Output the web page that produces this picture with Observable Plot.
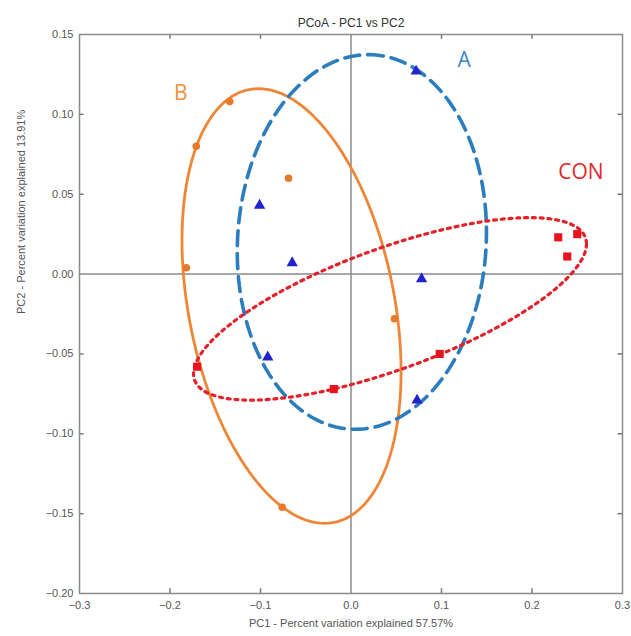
<!DOCTYPE html>
<html>
<head>
<meta charset="utf-8">
<script src="https://cdn.jsdelivr.net/npm/d3@7"></script>
<script src="https://cdn.jsdelivr.net/npm/@observablehq/plot@0.6"></script>
<style>
  html, body { margin: 0; padding: 0; background: #fff; }
  #chart svg { display: block; }
</style>
</head>
<body>
<div id="chart"></div>
<script>
// ---- Data ----
const title = "PCoA - PC1 vs PC2";
const xLabel = "PC1 - Percent variation explained 57.57%";
const yLabel = "PC2 - Percent variation explained 13.91%";

const xTicks = [-0.3, -0.2, -0.1, 0.0, 0.1, 0.2, 0.3];
const yTicks = [0.15, 0.10, 0.05, 0.00, -0.05, -0.10, -0.15, -0.20];

// Group B (orange circles)
const bX = [-0.134, -0.171, -0.069, -0.182, 0.048, -0.076];
const bY = [0.108, 0.080, 0.060, 0.004, -0.028, -0.146];
// Group A (blue triangles)
const aX = [0.072, -0.101, -0.065, 0.078, -0.092, 0.073];
const aY = [0.127, 0.043, 0.007, -0.003, -0.052, -0.079];
// Group CON (red squares)
const conX = [0.229, 0.250, 0.239, 0.098, -0.019, -0.170];
const conY = [0.023, 0.025, 0.011, -0.050, -0.072, -0.058];

// Ellipse parameters (center, two conjugate semi-axis vectors, in data units)
const ellipseGroups = ["A", "B", "CON"];
const ellipseCx = [0.0120, -0.0657, 0.0431];
const ellipseCy = [0.0201, -0.0200, -0.0218];
const ellipseU = [[0.0072, 0.1173], [-0.0365, 0.1361], [0.2171, 0.0406]];
const ellipseV = [[0.1375, 0.0], [0.1154, 0.0], [0.0, -0.0402]];

// Group label positions
const labelText = ["B", "A", "CON"];
const labelX = [-0.188, 0.125, 0.254];
const labelY = [0.113, 0.134, 0.064];

// ---- Styling ----
const colors = {
  A: {line: "#2C7DBD", point: "#2323CC", text: "#3A86C4"},
  B: {line: "#EE8636", point: "#E8782A", text: "#F0903F"},
  CON: {line: "#E4202A", point: "#E5141E", text: "#E2262C"}
};

// ---- Build tables ----
const zip = (xs, ys) => xs.map((x, i) => ({x, y: ys[i]}));
const ptsA = zip(aX, aY), ptsB = zip(bX, bY), ptsCON = zip(conX, conY);

const N = 160;
function ellipsePath(i) {
  const out = [];
  for (let k = 0; k <= N; k++) {
    const t = (2 * Math.PI * k) / N;
    out.push({
      x: ellipseCx[i] + ellipseU[i][0] * Math.cos(t) + ellipseV[i][0] * Math.sin(t),
      y: ellipseCy[i] + ellipseU[i][1] * Math.cos(t) + ellipseV[i][1] * Math.sin(t)
    });
  }
  return out;
}
const ellA = ellipsePath(0), ellB = ellipsePath(1), ellCON = ellipsePath(2);

const labels = labelText.map((t, i) => ({t, x: labelX[i], y: labelY[i]}));

const xMin = xTicks[0], xMax = xTicks[xTicks.length - 1];
const yMin = yTicks[yTicks.length - 1], yMax = yTicks[0];
const innerX = xTicks.filter(d => d !== 0 && d !== xMin && d !== xMax);
const innerY = yTicks.filter(d => d !== 0 && d !== yMin && d !== yMax);
const tickLenY = 0.003, tickLenX = 0.005;

const chart = Plot.plot({
  width: 631,
  height: 636,
  marginLeft: 79,
  marginRight: 9,
  marginTop: 34,
  marginBottom: 43,
  style: {fontFamily: "'Liberation Sans', Arial, sans-serif", fontSize: "11px", color: "#555", background: "#fff"},
  x: {domain: [xMin, xMax], ticks: xTicks, tickFormat: d3.format(".1f"), tickSize: 0, tickPadding: 8, label: null},
  y: {domain: [yMin, yMax], ticks: yTicks, tickFormat: d3.format(".2f"), tickSize: 0, tickPadding: 6, label: null},
  marks: [
    // zero lines
    Plot.ruleX([0], {stroke: "#8a8a8a", strokeWidth: 1.5}),
    Plot.ruleY([0], {stroke: "#8a8a8a", strokeWidth: 1.5}),
    // inward ticks
    Plot.ruleX(innerX, {x: d => d, y1: yMin, y2: yMin + tickLenY, stroke: "#777", strokeWidth: 1.5}),
    Plot.ruleX(innerX, {x: d => d, y1: yMax, y2: yMax - tickLenY, stroke: "#777", strokeWidth: 1.5}),
    Plot.ruleY(innerY, {y: d => d, x1: xMin, x2: xMin + tickLenX, stroke: "#777", strokeWidth: 1.5}),
    Plot.ruleY(innerY, {y: d => d, x1: xMax, x2: xMax - tickLenX, stroke: "#777", strokeWidth: 1.5}),
    Plot.frame({stroke: "#8a8a8a", strokeWidth: 1.5}),
    // ellipses
    Plot.line(ellB, {x: "x", y: "y", stroke: colors.B.line, strokeWidth: 2.8}),
    Plot.line(ellA, {x: "x", y: "y", stroke: colors.A.line, strokeWidth: 3.6, strokeDasharray: "15 8"}),
    Plot.line(ellCON, {x: "x", y: "y", stroke: colors.CON.line, strokeWidth: 3.2, strokeDasharray: "3 4.8"}),
    // points
    Plot.dot(ptsB, {x: "x", y: "y", r: 3.8, fill: colors.B.point, stroke: "none"}),
    Plot.dot(ptsA, {x: "x", y: "y", r: 4.2, symbol: "triangle", fill: colors.A.point, stroke: "none"}),
    Plot.dot(ptsCON, {x: "x", y: "y", r: 4.6, symbol: "square", fill: colors.CON.point, stroke: "none"}),
    // group labels
    Plot.text(labels, {x: "x", y: "y", text: "t", fill: d => colors[d.t].text, fontSize: 21,
      fontFamily: "'Open Sans', sans-serif", textAnchor: "middle"}),
    // title and axis labels
    Plot.text([title], {frameAnchor: "top", dy: -16, fontSize: 12, fill: "#333"}),
    Plot.text([xLabel], {frameAnchor: "bottom", dy: 33, fontSize: 11, fill: "#555"}),
    Plot.text([yLabel], {frameAnchor: "left", dx: -58, rotate: -90, fontSize: 11, fill: "#555"})
  ]
});
document.getElementById("chart").appendChild(chart);
</script>
</body>
</html>
